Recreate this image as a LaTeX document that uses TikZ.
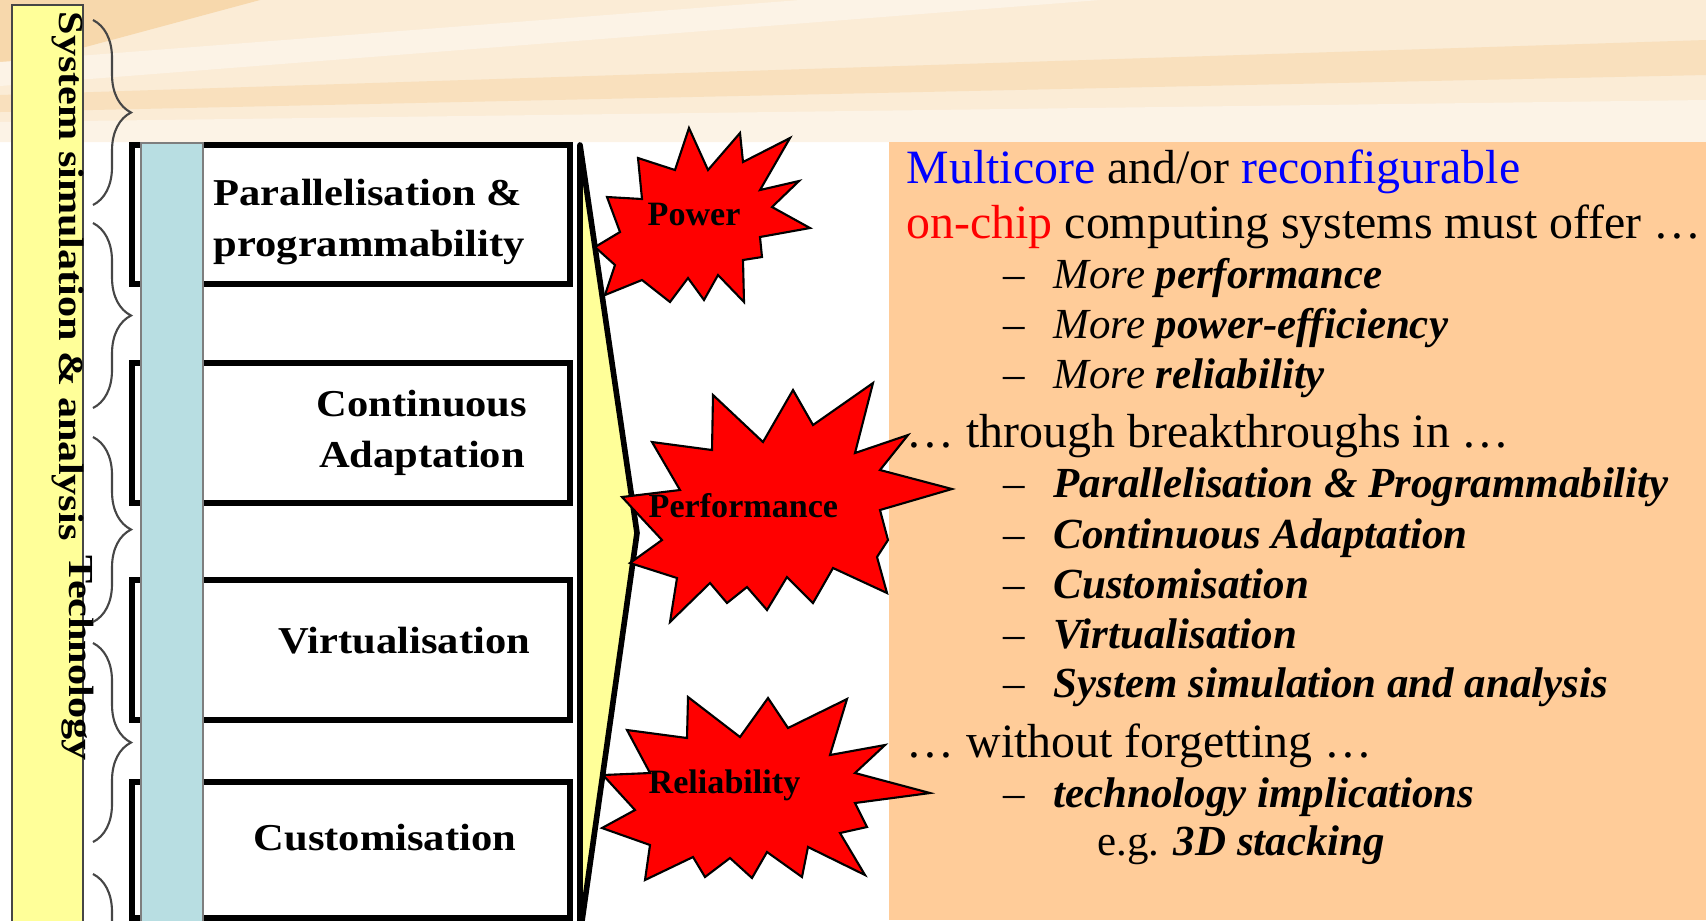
\documentclass[tikz,border=0pt]{standalone}
\usepackage{fontspec}
\setmainfont{Liberation Serif}
\newfontfamily\layerfont[FakeStretch=1.12]{Liberation Serif}
\newfontfamily\sidefont[FakeStretch=1.2]{Liberation Serif}
\usepackage{tikz}
\usetikzlibrary{decorations.pathreplacing}
\definecolor{MCyellow}{RGB}{255,255,153}
\definecolor{MCblue}{RGB}{184,222,226}
\definecolor{MCpeach}{RGB}{255,204,153}
\definecolor{MCband}{RGB}{251,236,214}
\definecolor{MCray}{RGB}{247,216,172}
\definecolor{MCraylight}{RGB}{252,243,230}
\definecolor{MCgray}{RGB}{70,70,70}
\tikzset{
  layer/.style={draw=black,line width=1.5pt,fill=white,minimum width=4.38cm,inner sep=0pt},
  layertext/.style={font=\layerfont\bfseries\fontsize{10.8}{14.5}\selectfont,inner sep=0pt},
  sidebar/.style={draw=MCgray,line width=0.8pt,fill=MCyellow},
  sidetext/.style={font=\sidefont\bfseries\fontsize{10}{12}\selectfont,inner sep=0pt,
                   rotate=-90,anchor=base west},
  bluebar/.style={draw=MCgray!70,line width=0.5pt,fill=MCblue},
  funnel/.style={draw=black,line width=1.6pt,fill=MCyellow,line join=round},
  burst/.style={draw=black,line width=0.6pt,fill=red,line join=miter},
  bursttext/.style={font=\bfseries\fontsize{9.7}{11}\selectfont,anchor=base west,inner sep=0pt},
  headline/.style={font=\fontsize{13.6}{16}\selectfont,anchor=base west,inner sep=0pt},
  itemline/.style={font=\fontsize{12.2}{14}\selectfont,anchor=base west,inner sep=0pt},
  bigbrace/.style={decorate,decoration={brace,amplitude=0.38cm},draw=MCgray,line width=0.6pt}
}
\begin{document}
\begin{tikzpicture}[x=0.01cm,y=-0.01cm]
  \useasboundingbox (0,0) rectangle (1706,920);
  \clip (0,0) rectangle (1706,920);
  \fill[MCband] (0,0) rectangle (1706,142);
  \fill[MCray] (0,0) -- (260,0) -- (0,70) -- cycle;
  \fill[MCraylight] (0,62) -- (800,0) -- (1100,0) -- (0,86) -- cycle;
  \fill[MCray!60!MCband] (0,95) -- (1706,40) -- (1706,75) -- (0,112) -- cycle;
  \fill[MCraylight] (0,122) -- (1706,100) -- (1706,142) -- (0,142) -- cycle;
  \fill[MCpeach] (889,142) rectangle (1706,920);

  \draw[sidebar] (12,5) rectangle (83,930);
  \node[sidetext] (simtxt) at (59,11) {System simulation \& analysis};
  \node[sidetext] (techtxt) at (70,555) {Technology};
  \foreach \a/\b in {20/205,223/408,437/622,643/842,874/1059}
    \draw[bigbrace] (93,\a) -- (93,\b);

  \node[layer,minimum height=1.39cm] (par) at (351,214.5) {};
  \node[layer,minimum height=1.40cm] (cont) at (351,433) {};
  \node[layer,minimum height=1.40cm] (virt) at (351,650) {};
  \node[layer,minimum height=1.36cm] (cust) at (351,850) {};
  \filldraw[bluebar] (141,143) rectangle (203,930);
  \node[layertext,anchor=base west,align=left] (partxt) at (213,256) {Parallelisation \&\\programmability};
  \node[layertext,anchor=base,align=center] (conttxt) at (422,467) {Continuous\\Adaptation};
  \node[layertext,anchor=base west] (virttxt) at (278,653) {Virtualisation};
  \node[layertext,anchor=base west] (custtxt) at (253,850) {Customisation};

  \filldraw[funnel] (580,145) -- (637,533) -- (580,935) -- cycle;

  \filldraw[burst] (689,128) -- (708,170) -- (740,133) -- (743,162) -- (790,138) -- (760,190)
    -- (799,181) -- (772,207) -- (810,228) -- (760,237) -- (762,257) -- (743,260) -- (744,302)
    -- (718,275) -- (704,300) -- (688,278) -- (670,302) -- (642,280) -- (605,295) -- (615,265)
    -- (595,247) -- (620,232) -- (607,197) -- (642,199) -- (638,158) -- (675,170) -- cycle;
  \filldraw[burst] (713,395) -- (763,442) -- (793,390) -- (813,425) -- (873,383) -- (855,453)
    -- (908,435) -- (880,470) -- (952,489) -- (880,510) -- (888,540) -- (877,557) -- (887,593)
    -- (833,568) -- (813,603) -- (787,577) -- (767,610) -- (747,587) -- (727,603) -- (710,583)
    -- (670,622) -- (677,578) -- (630,563) -- (662,540) -- (622,497) -- (680,490) -- (652,442)
    -- (712,450) -- cycle;
  \filldraw[burst] (688,697) -- (740,737) -- (768,698) -- (788,728) -- (847,699) -- (830,755)
    -- (885,745) -- (855,773) -- (930,793) -- (855,803) -- (867,827) -- (840,833) -- (865,875)
    -- (808,847) -- (802,877) -- (767,852) -- (752,878) -- (730,858) -- (705,877) -- (693,857)
    -- (645,880) -- (650,845) -- (602,828) -- (635,810) -- (603,775) -- (650,773) -- (627,730)
    -- (687,738) -- cycle;
  \node[bursttext] (power) at (647,225) {Power};
  \node[bursttext] (perf) at (648,517) {Performance};
  \node[bursttext] (rel) at (648,793) {Reliability};

  \node[headline] (offer1) at (906,183) {\textcolor{blue}{Multicore} and/or \textcolor{blue}{reconfigurable}};
  \node[headline] (offer2) at (906,238) {\textcolor{red}{on-chip} computing systems must offer …};
  \foreach \y/\w [count=\i] in {288/performance,338/power-efficiency,388/reliability} {
    \node[itemline] (dasha\i) at (1003,\y) {–};
    \node[itemline] (more\i) at (1053,\y) {\textit{More} \textbf{\textit{\w}}};
  }
  \node[headline] (through) at (906,447) {… through breakthroughs in …};
  \foreach \y/\w [count=\i] in {497/Parallelisation \& Programmability,548/Continuous Adaptation,
      598/Customisation,648/Virtualisation,697/System simulation and analysis} {
    \node[itemline] (dashb\i) at (1003,\y) {–};
    \node[itemline] (area\i) at (1053,\y) {\textbf{\textit{\w}}};
  }
  \node[headline] (forget) at (906,757) {… without forgetting …};
  \node[itemline] (dashc) at (1003,807) {–};
  \node[itemline] (techimp) at (1053,807) {\textbf{\textit{technology implications}}};
  \node[itemline] (stack) at (1097,855) {e.g. \textbf{\textit{3D stacking}}};
\end{tikzpicture}
\end{document}
